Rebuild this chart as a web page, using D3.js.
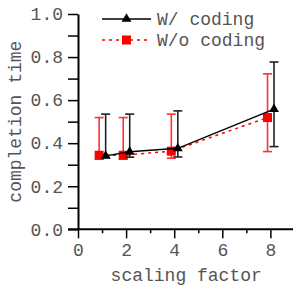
<!DOCTYPE html>
<html>
<head>
<meta charset="utf-8">
<script src="https://cdn.jsdelivr.net/npm/d3@7"></script>
<style>
  body { margin: 0; background: #fff; }
  text { font-family: "Liberation Mono", "Courier New", monospace; fill: #555; }
</style>
</head>
<body>
<script>
// scaling factors (each series is shifted a little sideways in the picture)
var scaling = [1, 2, 4, 8];
var shiftCoding = 0.15, shiftNoCoding = -0.12;

// W/ coding
var codingMean = [0.341, 0.360, 0.376, 0.558];
var codingLow  = [0.333, 0.335, 0.336, 0.384];
var codingHigh = [0.535, 0.535, 0.550, 0.777];

// W/o coding
var noCodingMean = [0.344, 0.344, 0.363, 0.519];
var noCodingLow  = [0.326, 0.326, 0.330, 0.361];
var noCodingHigh = [0.519, 0.519, 0.535, 0.722];

var xTicks = [0, 2, 4, 6, 8];
var yTicks = [0, 0.2, 0.4, 0.6, 0.8, 1.0];

var W = 293, H = 289;
var margin = {top: 14, left: 78, bottom: 60};

var svg = d3.select("body").append("svg")
    .attr("width", W)
    .attr("height", H);

var x = d3.scaleLinear().domain([0, 9]).range([margin.left, margin.left + 9 * 24.05]);
var y = d3.scaleLinear().domain([0, 1]).range([229.3, margin.top]);

// minor ticks
svg.append("g")
    .attr("transform", "translate(0," + y(0) + ")")
    .call(d3.axisBottom(x).tickValues([1, 3, 5, 7]).tickSize(4).tickFormat(""))
    .call(function(g) { g.select(".domain").remove(); })
    .selectAll("line").attr("stroke", "#000").attr("stroke-width", 1.5);

svg.append("g")
    .attr("transform", "translate(" + x(0) + ",0)")
    .call(d3.axisLeft(y).tickValues([0.1, 0.3, 0.5, 0.7, 0.9]).tickSize(10).tickFormat(""))
    .call(function(g) { g.select(".domain").remove(); })
    .selectAll("line").attr("stroke", "#000").attr("stroke-width", 1.5);

// x axis
var xAxis = svg.append("g")
    .attr("transform", "translate(0," + y(0) + ")")
    .call(d3.axisBottom(x).tickValues(xTicks).tickSize(9).tickPadding(5).tickSizeOuter(0));
xAxis.select(".domain").attr("d", "M" + (x(0) - 10) + ",0H" + W).attr("stroke", "#000").attr("stroke-width", 2);
xAxis.selectAll("line").attr("stroke", "#000").attr("stroke-width", 1.5);
xAxis.selectAll("text").style("font-size", "18px").attr("fill", "#555");

// y axis
var yAxis = svg.append("g")
    .attr("transform", "translate(" + x(0) + ",0)")
    .call(d3.axisLeft(y).tickValues(yTicks).tickSize(10).tickPadding(5).tickSizeOuter(0)
        .tickFormat(d3.format(".1f")));
yAxis.select(".domain").attr("stroke", "#000").attr("stroke-width", 2);
yAxis.selectAll("line").attr("stroke", "#000").attr("stroke-width", 1.5);
yAxis.selectAll("text").style("font-size", "18px").attr("fill", "#555");

// axis titles
svg.append("text")
    .attr("x", x(4.5))
    .attr("y", 281)
    .style("text-anchor", "middle")
    .style("font-size", "18px")
    .text("scaling factor");

svg.append("text")
    .attr("transform", "translate(21," + y(0.5) + ") rotate(-90)")
    .style("text-anchor", "middle")
    .style("font-size", "18px")
    .text("completion time");

function drawSeries(mean, low, high, shift, color, errColor, dash, symbol) {
    var pts = scaling.map(function(s, i) {
        return {x: s + shift, m: mean[i], lo: low[i], hi: high[i]};
    });
    var g = svg.append("g");

    // error bars
    var eb = g.selectAll(".eb").data(pts).enter().append("g")
        .attr("stroke", errColor).attr("stroke-width", 1.6);
    eb.append("line")
        .attr("x1", function(d) { return x(d.x); }).attr("x2", function(d) { return x(d.x); })
        .attr("y1", function(d) { return y(d.lo); }).attr("y2", function(d) { return y(d.hi); });
    eb.append("line")
        .attr("x1", function(d) { return x(d.x) - 4.5; }).attr("x2", function(d) { return x(d.x) + 4.5; })
        .attr("y1", function(d) { return y(d.hi); }).attr("y2", function(d) { return y(d.hi); });
    eb.append("line")
        .attr("x1", function(d) { return x(d.x) - 4.5; }).attr("x2", function(d) { return x(d.x) + 4.5; })
        .attr("y1", function(d) { return y(d.lo); }).attr("y2", function(d) { return y(d.lo); });

    // line
    g.append("path")
        .datum(pts)
        .attr("fill", "none")
        .attr("stroke", color)
        .attr("stroke-width", 1.5)
        .attr("stroke-dasharray", dash)
        .attr("d", d3.line().x(function(d) { return x(d.x); }).y(function(d) { return y(d.m); }));

    // markers
    g.selectAll(".pt").data(pts).enter().append("path")
        .attr("transform", function(d) { return "translate(" + x(d.x) + "," + y(d.m) + ")"; })
        .attr("d", symbol)
        .attr("fill", color);
}

var tri = d3.symbol().type(d3.symbolTriangle).size(42)();
var sq = d3.symbol().type(d3.symbolSquare).size(81)();

drawSeries(noCodingMean, noCodingLow, noCodingHigh, shiftNoCoding, "#ff0000", "#ff3030", "3,4", sq);
drawSeries(codingMean, codingLow, codingHigh, shiftCoding, "#000", "#222", null, tri);

// legend
var legend = [
    {label: "W/ coding", color: "#000", dash: null, sym: tri, y: 19},
    {label: "W/o coding", color: "#ff0000", dash: "3,4", sym: sq, y: 40}
];
var lg = svg.selectAll(".lg").data(legend).enter().append("g");
lg.append("line")
    .attr("x1", 102).attr("x2", 151)
    .attr("y1", function(d) { return d.y; }).attr("y2", function(d) { return d.y; })
    .attr("stroke", function(d) { return d.color; })
    .attr("stroke-width", 1.5)
    .attr("stroke-dasharray", function(d) { return d.dash; });
lg.append("path")
    .attr("transform", function(d) { return "translate(126.5," + d.y + ")"; })
    .attr("d", function(d) { return d.sym; })
    .attr("fill", function(d) { return d.color; });
lg.append("text")
    .attr("x", 157)
    .attr("y", function(d) { return d.y; })
    .attr("dy", "0.32em")
    .style("font-size", "18px")
    .text(function(d) { return d.label; });
</script>
</body>
</html>
